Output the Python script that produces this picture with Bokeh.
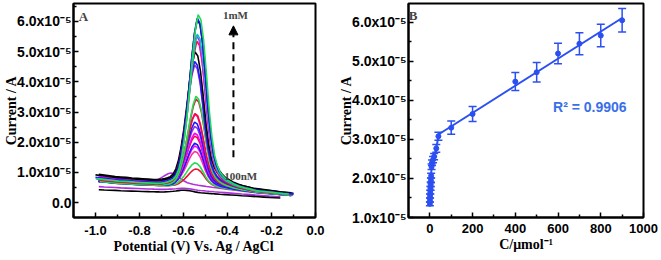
import numpy as np
from bokeh.plotting import figure
from bokeh.layouts import row
from bokeh.models import (FixedTicker, Whisker, TeeHead, ColumnDataSource, Label,
                          Arrow, NormalHead)
from bokeh.embed import file_html
from bokeh.resources import INLINE

# ---------------- Panel A data (current in units of 1e-5 A) ----------------
POTENTIAL = [-1.0, -0.975, -0.95, -0.925, -0.9, -0.875, -0.85, -0.825, -0.8, -0.775,
             -0.75, -0.725, -0.7,
             -0.6875, -0.675, -0.6625, -0.65, -0.6375, -0.625, -0.6125, -0.6, -0.5875,
             -0.575, -0.5625, -0.55, -0.5375, -0.525, -0.5125, -0.5, -0.4875, -0.475,
             -0.4625, -0.45, -0.4375, -0.425, -0.4125, -0.4,
             -0.375, -0.35, -0.325, -0.3, -0.275, -0.25, -0.225, -0.2, -0.175, -0.15,
             -0.125, -0.1]
BASELINE = [0.80, 0.78, 0.76, 0.74, 0.72, 0.71, 0.70, 0.68, 0.67, 0.66,
            0.65, 0.64, 0.63,
            0.625, 0.62, 0.615, 0.61, 0.607, 0.604, 0.602, 0.60, 0.595,
            0.59, 0.585, 0.58, 0.575, 0.57, 0.565, 0.56, 0.555, 0.55,
            0.545, 0.54, 0.53, 0.52, 0.51, 0.50,
            0.48, 0.46, 0.44, 0.42, 0.40, 0.38, 0.36, 0.34, 0.32, 0.30,
            0.285, 0.27]
PEAK_SHAPE = [0, 0, 0, 0, 0, 0, 0, 0, 0, 0,
              0, 0, 0.004,
              0.008, 0.013, 0.02, 0.03, 0.05, 0.09, 0.16, 0.27, 0.41,
              0.58, 0.76, 0.91, 1.0, 0.97, 0.85, 0.66, 0.45, 0.29,
              0.18, 0.12, 0.085, 0.065, 0.05, 0.04,
              0.025, 0.015, 0.009, 0.005, 0, 0, 0, 0, 0, 0,
              0, 0]
PEAK_HEIGHT = [5.65, 5.5, 5.4, 5.0, 4.9, 4.8, 4.3, 4.1, 3.95, 3.0, 2.85, 2.4, 2.3,
               2.15, 1.95, 1.75, 1.6, 1.45, 1.3, 1.15, 0.8, 0.6, 0.35, 0.08, 0.06]
PEAK_SHIFT = [0.004, 0.0, 0.0, 0.0, -0.004, -0.002, -0.01, -0.012, -0.012, -0.006,
              -0.006, -0.01, -0.012, -0.012, -0.012, -0.012, -0.012, -0.012, -0.012,
              -0.012, -0.012, -0.008, -0.12, -0.06, -0.06]
BASE_SCALE = [1.0, 1.05, 1.15, 1.0, 1.1, 0.95, 1.2, 1.0, 1.05, 0.9, 1.0, 0.95, 1.1,
              0.9, 1.0, 0.95, 1.05, 0.9, 1.0, 0.95, 0.9, 0.9, 1.1, 0.58, 0.72]
CURVE_COLOR = ["#22DD55", "#1A1AFF", "#000000", "#00C8C8", "#FF00FF", "#EE1133",
               "#000000", "#1A1AFF", "#9A2BE2", "#22DD55", "#EE1133", "#EE1133",
               "#FF00FF", "#1A1AFF", "#9A2BE2", "#FF00FF", "#EE1133", "#1A1AFF",
               "#FF00FF", "#FF3399", "#22DD55", "#EE1133", "#B030E0", "#000000",
               "#B030E0"]

A_XTICKS = [-1.0, -0.8, -0.6, -0.4, -0.2, 0.0]
A_XLABELS = ["-1.0", "-0.8", "-0.6", "-0.4", "-0.2", "0.0"]
A_YTICKS = [0, 1, 2, 3, 4, 5, 6]
A_YLABELS = ["0.0", "1.0x10⁻⁵", "2.0x10⁻⁵", "3.0x10⁻⁵", "4.0x10⁻⁵", "5.0x10⁻⁵", "6.0x10⁻⁵"]

# ---------------- Panel B data ----------------
B_CONC = [0.1, 0.5, 1, 2, 3, 4, 5, 6, 8, 10, 15, 20, 30, 40, 100, 200, 400, 500,
          600, 700, 800, 900]
B_CURRENT = [1.35, 1.45, 1.55, 1.65, 1.75, 1.85, 1.95, 2.07, 2.3, 2.4, 2.48, 2.56,
             2.77, 3.08, 3.3, 3.65, 4.48, 4.72, 5.2, 5.45, 5.66, 6.05]
B_ERROR = [0.05, 0.05, 0.05, 0.05, 0.05, 0.06, 0.06, 0.06, 0.07, 0.07, 0.08, 0.08,
           0.1, 0.1, 0.17, 0.19, 0.23, 0.25, 0.26, 0.28, 0.29, 0.3]
B_XTICKS = [0, 200, 400, 600, 800, 1000]
B_YTICKS = [1, 2, 3, 4, 5, 6]
B_YLABELS = ["1.0x10⁻⁵", "2.0x10⁻⁵", "3.0x10⁻⁵", "4.0x10⁻⁵", "5.0x10⁻⁵", "6.0x10⁻⁵"]
R2_TEXT = "R² = 0.9906"

SANS = "Liberation Sans"
SERIF = "Liberation Serif"
BLUE = "#2B4FF0"


def style(p, xticks, xminor, yticks, yminor, xstand):
    p.xgrid.visible = False
    p.ygrid.visible = False
    p.outline_line_color = "black"
    p.outline_line_width = 2
    p.outline_line_alpha = 1
    p.background_fill_color = "white"
    p.border_fill_color = "white"
    for ax, t, m in ((p.xaxis[0], xticks, xminor), (p.yaxis[0], yticks, yminor)):
        ax.ticker = FixedTicker(ticks=t, minor_ticks=m)
        ax.axis_line_width = 2
        ax.major_tick_in = 5
        ax.major_tick_out = 0
        ax.minor_tick_in = 3
        ax.minor_tick_out = 0
        ax.major_tick_line_width = 1.5
        ax.minor_tick_line_width = 1.5
        ax.major_label_text_font = SANS
        ax.major_label_text_font_style = "bold"
        ax.major_label_text_color = "black"
        ax.axis_label_text_font = SERIF
        ax.axis_label_text_font_style = "bold"
        ax.axis_label_text_font_size = "14px"
        ax.axis_label_text_color = "black"
    p.xaxis.major_label_text_font_size = "13px"
    p.yaxis.major_label_text_font_size = "14px"
    p.xaxis.major_label_standoff = xstand
    p.xaxis.axis_label_standoff = 1
    p.yaxis.major_label_standoff = 2
    p.yaxis.axis_label_standoff = -5


# ---------------- Panel A ----------------
pa = figure(width=330, height=260, x_range=(-1.1, 0.0), y_range=(-0.49, 6.59),
            output_backend="svg", toolbar_location=None,
            min_border_left=73, min_border_right=15, min_border_top=3, min_border_bottom=41)
style(pa, A_XTICKS, [-1.1, -0.9, -0.7, -0.5, -0.3, -0.1], A_YTICKS,
      [-0.5, 0.5, 1.5, 2.5, 3.5, 4.5, 5.5, 6.5], 8)
pa.xaxis.major_label_overrides = dict(zip(A_XTICKS, A_XLABELS))
pa.yaxis.major_label_overrides = dict(zip(A_YTICKS, A_YLABELS))
pa.xaxis.axis_label = "Potential (V) Vs. Ag / AgCl"
pa.yaxis.axis_label = "Current / A"

pot = np.array(POTENTIAL)
base = np.array(BASELINE)
shape = np.array(PEAK_SHAPE)
order = np.argsort(PEAK_HEIGHT)
for i in order:
    x = pot + PEAK_SHIFT[i]
    y = base * BASE_SCALE[i] + PEAK_HEIGHT[i] * shape
    keep = (x >= -1.0) & (x <= -0.1)
    pa.line(x[keep], y[keep], line_color=CURVE_COLOR[i], line_width=1.6)

pa.add_layout(Arrow(x_start=-0.373, y_start=1.5, x_end=-0.373, y_end=5.85,
                    line_color="black", line_width=2, line_dash="7 5",
                    end=NormalHead(size=9, fill_color="black", line_color="black")))
pa.add_layout(Label(x=-1.055, y=6.16, text="A", text_font=SERIF, text_font_style="bold",
                    text_font_size="13px", text_align="center", text_baseline="middle"))
pa.add_layout(Label(x=-0.364, y=6.2, text="1mM", text_font=SERIF, text_font_style="bold",
                    text_font_size="11px", text_align="center", text_baseline="middle"))
pa.add_layout(Label(x=-0.34, y=0.89, text="100nM", text_font=SERIF, text_font_style="bold",
                    text_font_size="11px", text_align="center", text_baseline="middle"))

# ---------------- Panel B ----------------
pb = figure(width=331, height=260, x_range=(-100, 1000), y_range=(1.0, 6.48),
            output_backend="svg", toolbar_location=None,
            min_border_left=78, min_border_right=18, min_border_top=3, min_border_bottom=43)
style(pb, B_XTICKS, [-100, 100, 300, 500, 700, 900], B_YTICKS,
      [1.5, 2.5, 3.5, 4.5, 5.5], 6)
pb.yaxis.major_label_overrides = dict(zip(B_YTICKS, B_YLABELS))
pb.xaxis.axis_label = "C/μmol⁻¹"
pb.yaxis.axis_label = "Current / A"

conc = np.array(B_CONC, dtype=float)
cur = np.array(B_CURRENT)
err = np.array(B_ERROR)
low = conc <= 40
high = conc >= 40
pb.line(conc[low], cur[low], line_color=BLUE, line_width=2)
k, b0 = np.polyfit(conc[high], cur[high], 1)
xf = np.array([conc[high].min(), conc[high].max()])
pb.line(xf, k * xf + b0, line_color=BLUE, line_width=2)
src = ColumnDataSource(dict(x=conc, y=cur, upper=cur + err, lower=cur - err))
pb.add_layout(Whisker(source=src, base="x", upper="upper", lower="lower",
                      line_color=BLUE, line_width=1.5,
                      upper_head=TeeHead(size=8, line_color=BLUE, line_width=1.5),
                      lower_head=TeeHead(size=8, line_color=BLUE, line_width=1.5)))
pb.scatter("x", "y", source=src, size=5, fill_color=BLUE, line_color=BLUE)
pb.add_layout(Label(x=-79, y=6.17, text="B", text_font=SERIF, text_font_style="bold",
                    text_font_size="13px", text_align="center", text_baseline="middle"))
pb.add_layout(Label(x=749, y=3.84, text=R2_TEXT, text_font=SANS, text_font_style="bold",
                    text_font_size="14px", text_color="#3A6FE8", text_align="center",
                    text_baseline="middle"))

layout = row(pa, pb, spacing=0)
open("out.html", "w").write(file_html(layout, INLINE))
